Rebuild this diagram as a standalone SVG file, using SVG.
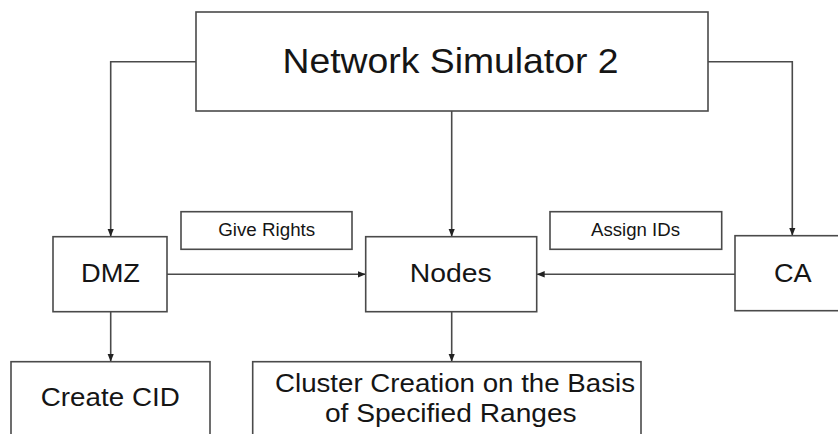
<svg xmlns="http://www.w3.org/2000/svg" width="838" height="434" viewBox="0 0 838 434">
  <style>
    .box { fill: #ffffff; stroke: #4a4a4a; stroke-width: 1.6; }
    .wire { fill: none; stroke: #4a4a4a; stroke-width: 1.6; marker-end: url(#arrow); }
    text { font-family: "Liberation Sans", Arial, sans-serif; fill: #151515; text-anchor: middle; }
  </style>
  <defs>
    <marker id="arrow" markerUnits="userSpaceOnUse" markerWidth="8" markerHeight="8" viewBox="0 0 8 8" refX="8" refY="4" orient="auto">
      <path d="M0,0.8 L8,4 L0,7.2 z" fill="#222"/>
    </marker>
  </defs>
  <rect width="838" height="434" fill="#ffffff"/>

  <!-- connectors -->
  <g id="connectors">
    <path class="wire" d="M196,61.7 H110.7 V236.7"/>
    <path class="wire" d="M708,61.7 H792.3 V235.7"/>
    <path class="wire" d="M451.7,111 V236.7"/>
    <path class="wire" d="M167,274.3 H365.7"/>
    <path class="wire" d="M735,274.3 H536.7"/>
    <path class="wire" d="M110.7,311.7 V361.7"/>
    <path class="wire" d="M451.7,311.7 V361.7"/>
  </g>

  <g id="ns2">
    <rect class="box" x="196" y="12" width="512" height="99"/>
    <text x="450.5" y="73.3" font-size="35" textLength="336" lengthAdjust="spacingAndGlyphs">Network Simulator 2</text>
  </g>

  <g id="give-rights">
    <rect class="box" x="181" y="211.7" width="171" height="37.6"/>
    <text x="266.7" y="235.7" font-size="17.5" textLength="97" lengthAdjust="spacingAndGlyphs">Give Rights</text>
  </g>

  <g id="assign-ids">
    <rect class="box" x="550" y="211.7" width="171.7" height="37.6"/>
    <text x="635.5" y="235.7" font-size="17.5" textLength="89" lengthAdjust="spacingAndGlyphs">Assign IDs</text>
  </g>

  <g id="dmz">
    <rect class="box" x="53" y="236.7" width="114" height="75"/>
    <text x="110.5" y="282.3" font-size="26.5" textLength="59" lengthAdjust="spacingAndGlyphs">DMZ</text>
  </g>

  <g id="nodes">
    <rect class="box" x="365.7" y="236.7" width="171" height="75"/>
    <text x="450.8" y="281.7" font-size="26" textLength="82" lengthAdjust="spacingAndGlyphs">Nodes</text>
  </g>

  <g id="ca">
    <rect class="box" x="735" y="235.7" width="120" height="75"/>
    <text x="792.8" y="281.7" font-size="26" textLength="37.7" lengthAdjust="spacingAndGlyphs">CA</text>
  </g>

  <g id="create-cid">
    <rect class="box" x="11" y="361.7" width="199" height="90"/>
    <text x="110.3" y="406" font-size="25" textLength="139" lengthAdjust="spacingAndGlyphs">Create CID</text>
  </g>

  <g id="cluster-creation">
    <rect class="box" x="252.7" y="361.7" width="388.3" height="90"/>
    <text x="455" y="391.7" font-size="26" textLength="360" lengthAdjust="spacingAndGlyphs">Cluster Creation on the Basis</text>
    <text x="450.8" y="421.7" font-size="26" textLength="251.7" lengthAdjust="spacingAndGlyphs">of Specified Ranges</text>
  </g>
</svg>
